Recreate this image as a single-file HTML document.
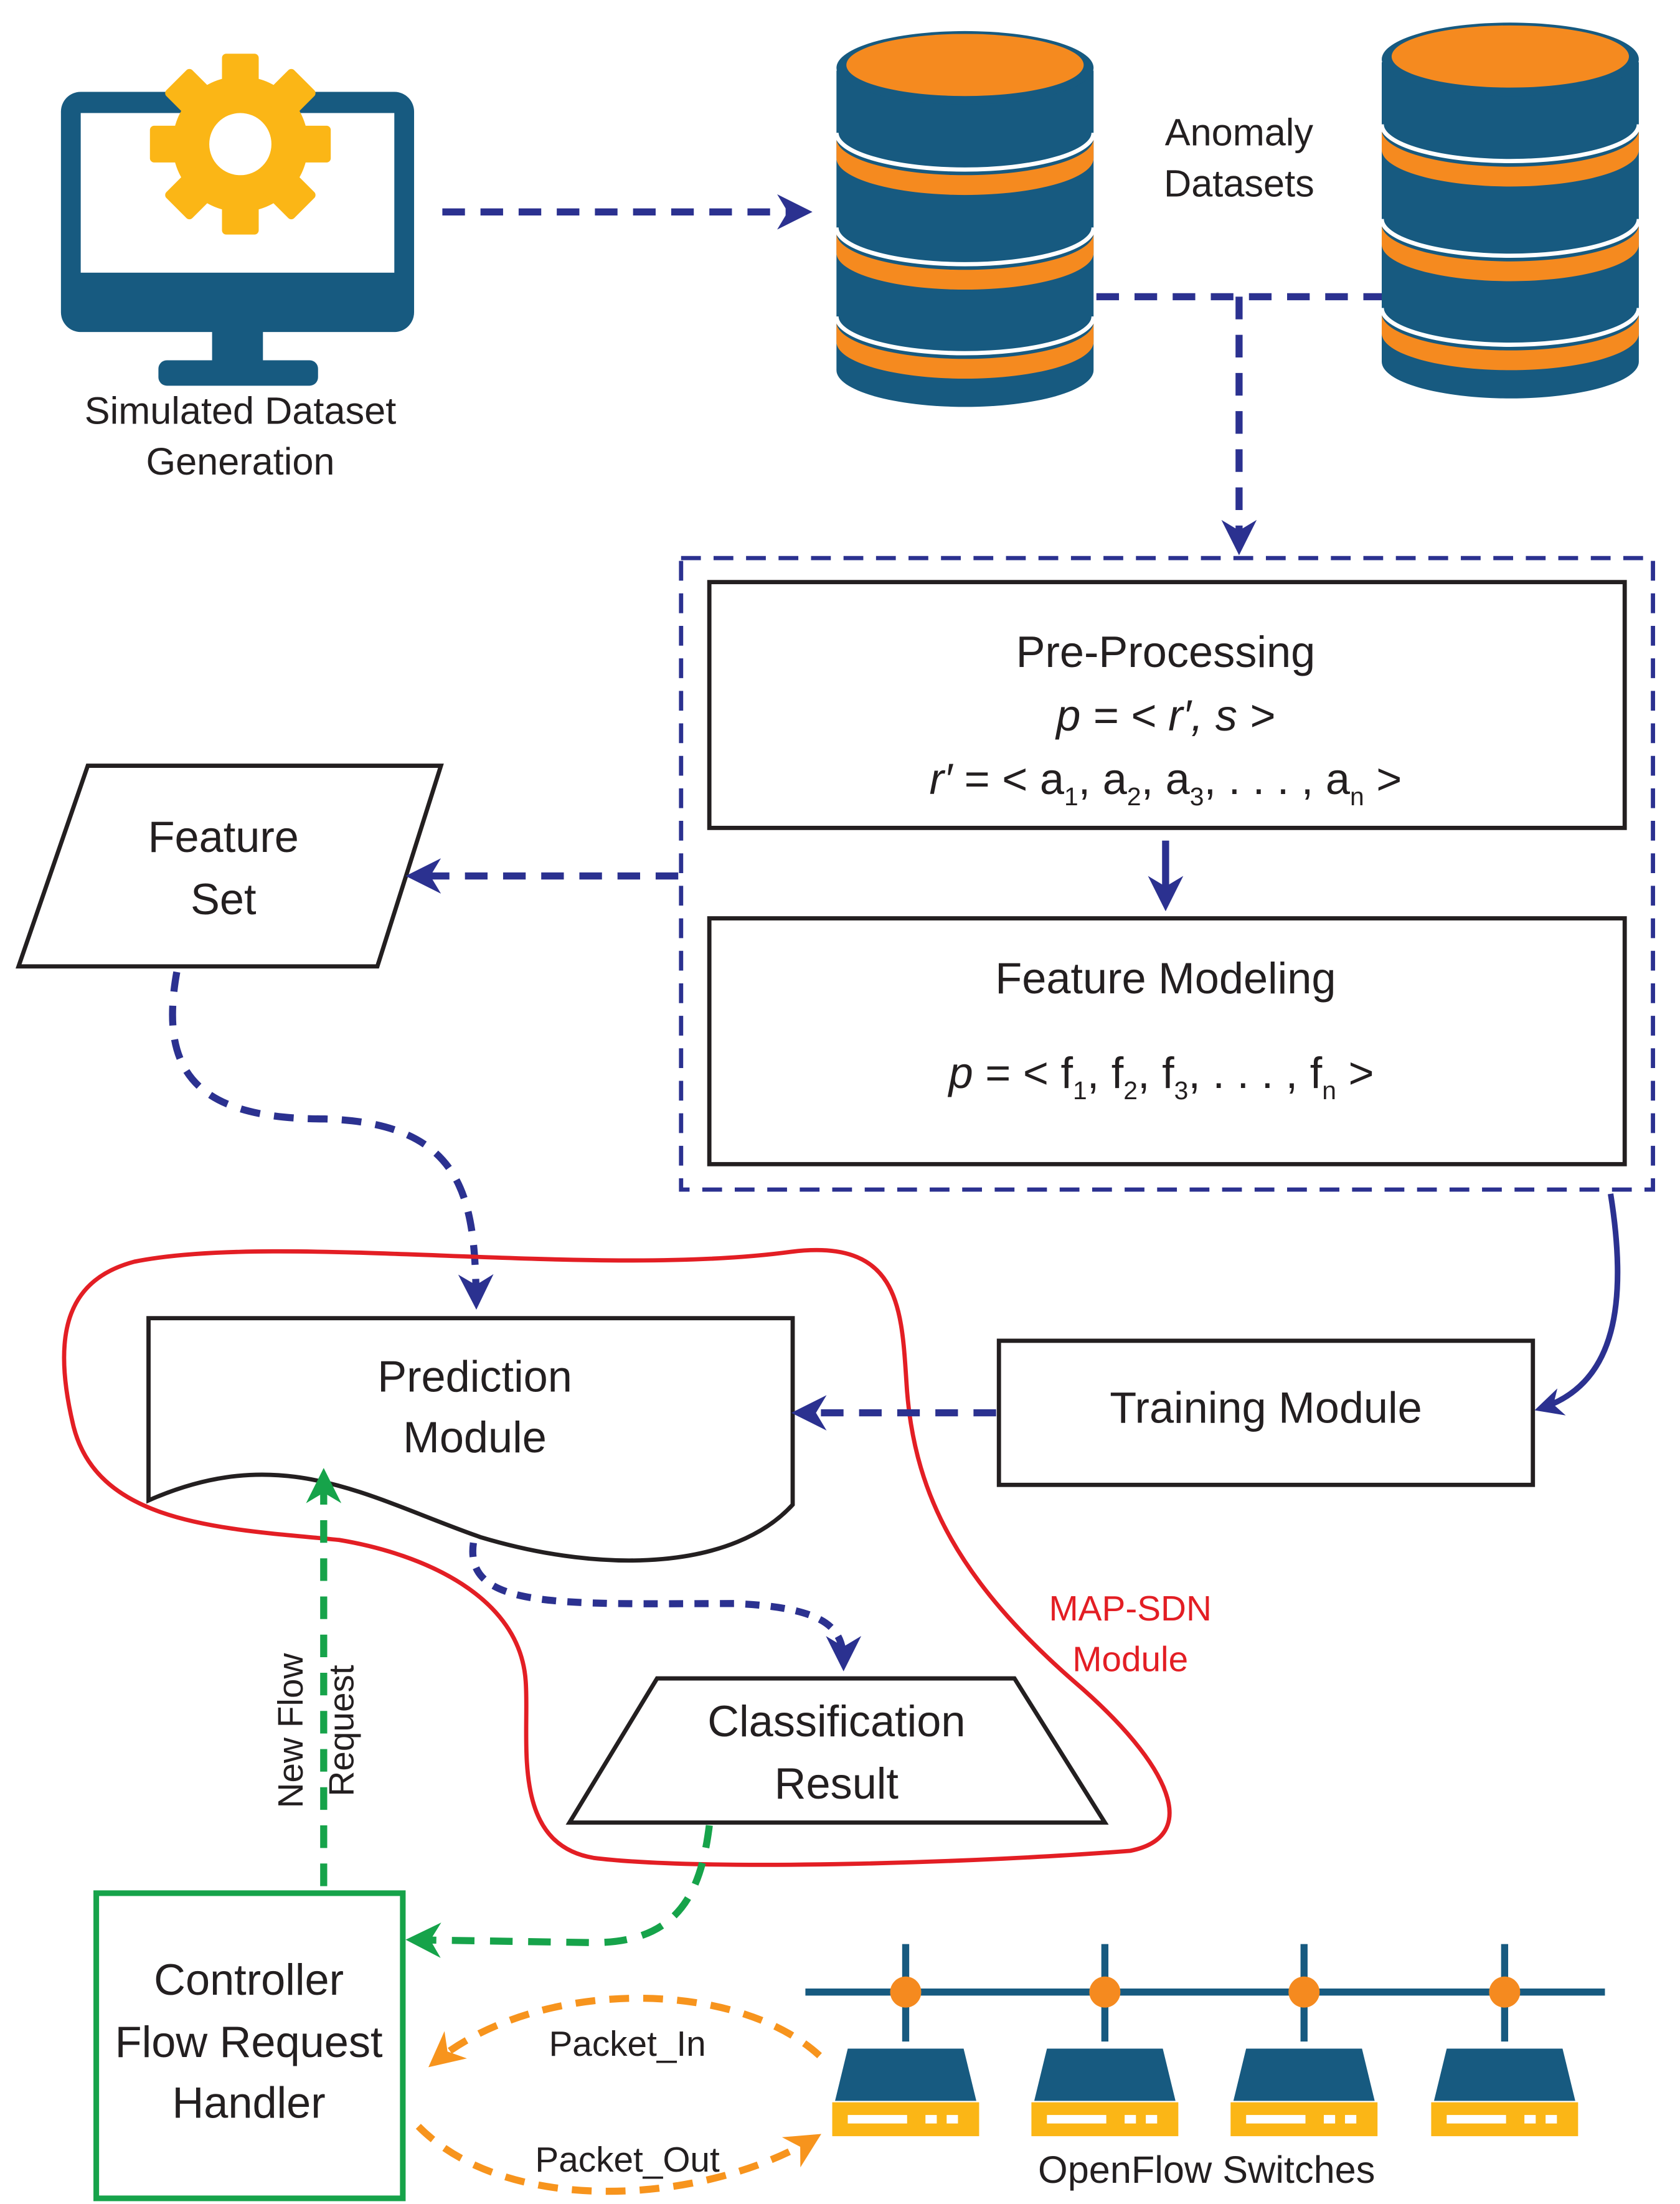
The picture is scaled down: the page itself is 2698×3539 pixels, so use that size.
<!DOCTYPE html>
<html><head><meta charset="utf-8"><style>
html,body{margin:0;padding:0;background:#fff}
svg{display:block}
text{font-family:"Liberation Sans",sans-serif;fill:#231f20}
</style></head><body>
<svg width="2698" height="3539" viewBox="0 0 1189 1560" xmlns="http://www.w3.org/2000/svg">
<defs>
<marker id="ab" viewBox="0 0 10 10" refX="8" refY="5" markerWidth="5" markerHeight="5" orient="auto"><path d="M0,0 L10,5 L0,10 L3,5 Z" fill="#2b3190"/></marker>
<marker id="ag" viewBox="0 0 10 10" refX="8" refY="5" markerWidth="5" markerHeight="5" orient="auto"><path d="M0,0 L10,5 L0,10 L3,5 Z" fill="#16a34a"/></marker>
<marker id="ao" viewBox="0 0 10 10" refX="8" refY="5" markerWidth="5" markerHeight="5" orient="auto"><path d="M0,0 L10,5 L0,10 L3,5 Z" fill="#f7941d"/></marker>
</defs>

<!-- Monitor -->
<rect x="43" y="65" width="250" height="170" rx="14" fill="#175a80"/>
<rect x="57" y="80" width="222" height="113" fill="#fff"/>
<rect x="150" y="233" width="36" height="25" fill="#175a80"/>
<rect x="112" y="255" width="113" height="18" rx="6" fill="#175a80"/>
<g transform="translate(170,102)" fill="#fbb616">
<circle r="48"/>
<g id="t"><rect x="-13" y="-64" width="26" height="30" rx="3"/></g>
<use href="#t" transform="rotate(45)"/><use href="#t" transform="rotate(90)"/><use href="#t" transform="rotate(135)"/>
<use href="#t" transform="rotate(180)"/><use href="#t" transform="rotate(225)"/><use href="#t" transform="rotate(270)"/><use href="#t" transform="rotate(315)"/>
<circle r="22" fill="#fff"/>
</g>
<text x="170" y="300" font-size="27" text-anchor="middle">Simulated Dataset</text>
<text x="170" y="336" font-size="27" text-anchor="middle">Generation</text>

<path d="M313,150 L570,150" stroke="#2b3190" stroke-width="5" stroke-dasharray="16,11" fill="none" marker-end="url(#ab)"/>

<!-- Cylinders -->
<g id="cyl">
<path d="M592,50 L592,262 A91,26 0 0 0 774,262 L774,50 Z" fill="#175a80"/>
<path d="M592,98 A91,26 0 0 0 774,98 L774,112 A91,26 0 0 1 592,112 Z" fill="#f58a1f"/>
<path d="M592,165 A91,26 0 0 0 774,165 L774,179 A91,26 0 0 1 592,179 Z" fill="#f58a1f"/>
<path d="M592,228 A91,26 0 0 0 774,228 L774,242 A91,26 0 0 1 592,242 Z" fill="#f58a1f"/>
<path d="M592,94 A91,26 0 0 0 774,94" stroke="#fff" stroke-width="3" fill="none"/>
<path d="M592,161 A91,26 0 0 0 774,161" stroke="#fff" stroke-width="3" fill="none"/>
<path d="M592,224 A91,26 0 0 0 774,224" stroke="#fff" stroke-width="3" fill="none"/>
<ellipse cx="683" cy="48" rx="91" ry="26" fill="#175a80"/>
<ellipse cx="683" cy="46" rx="84" ry="22" fill="#f58a1f"/>
</g>
<use href="#cyl" transform="translate(386,-6)"/>
<text x="877" y="103" font-size="27" text-anchor="middle">Anomaly</text>
<text x="877" y="139" font-size="27" text-anchor="middle">Datasets</text>

<path d="M776,210 L978,210" stroke="#2b3190" stroke-width="5" stroke-dasharray="16,11" fill="none"/>
<path d="M877,210 L877,388" stroke="#2b3190" stroke-width="5" stroke-dasharray="16,11" fill="none" marker-end="url(#ab)"/>

<rect x="482" y="395" width="688" height="447" fill="none" stroke="#2b3190" stroke-width="3" stroke-dasharray="14,9"/>
<rect x="502" y="412" width="648" height="174" fill="#fff" stroke="#231f20" stroke-width="3"/>
<text x="825" y="472" font-size="31" text-anchor="middle">Pre-Processing</text>
<text x="825" y="517" font-size="31" text-anchor="middle" font-style="italic">p = &lt; r′, s &gt;</text>
<text x="825" y="562" font-size="31" text-anchor="middle"><tspan font-style="italic">r′</tspan> = &lt; a<tspan font-size="18" dy="8">1</tspan><tspan dy="-8">, a</tspan><tspan font-size="18" dy="8">2</tspan><tspan dy="-8">, a</tspan><tspan font-size="18" dy="8">3</tspan><tspan dy="-8">, . . . , a</tspan><tspan font-size="18" dy="8">n</tspan><tspan dy="-8"> &gt;</tspan></text>
<path d="M825,595 L825,640" stroke="#2b3190" stroke-width="5" fill="none" marker-end="url(#ab)"/>
<rect x="502" y="650" width="648" height="174" fill="#fff" stroke="#231f20" stroke-width="3"/>
<text x="825" y="703" font-size="31" text-anchor="middle">Feature Modeling</text>
<text x="822" y="770" font-size="31" text-anchor="middle"><tspan font-style="italic">p</tspan> = &lt; f<tspan font-size="18" dy="8">1</tspan><tspan dy="-8">, f</tspan><tspan font-size="18" dy="8">2</tspan><tspan dy="-8">, f</tspan><tspan font-size="18" dy="8">3</tspan><tspan dy="-8">, . . . , f</tspan><tspan font-size="18" dy="8">n</tspan><tspan dy="-8"> &gt;</tspan></text>

<!-- Feature set -->
<path d="M62,542 L312,542 L267,684 L13,684 Z" fill="#fff" stroke="#231f20" stroke-width="3"/>
<text x="158" y="603" font-size="31" text-anchor="middle">Feature</text>
<text x="158" y="647" font-size="31" text-anchor="middle">Set</text>
<path d="M480,620 L292,620" stroke="#2b3190" stroke-width="5" stroke-dasharray="16,11" fill="none" marker-end="url(#ab)"/>
<path d="M125,688 C112,760 140,792 230,792 C330,795 336,850 337,922" stroke="#2b3190" stroke-width="5" stroke-dasharray="14,10" fill="none" marker-end="url(#ab)"/>

<!-- Red blob -->
<path d="M95,893 C200,872 420,905 560,886 C640,876 638,930 642,985 C648,1060 680,1120 760,1190 C830,1250 850,1300 800,1310 C700,1318 500,1325 420,1315 C360,1305 375,1230 372,1190 C368,1130 300,1100 240,1090 C160,1082 70,1080 52,1010 C35,940 50,905 95,893 Z" fill="none" stroke="#e31e24" stroke-width="3"/>

<!-- Prediction -->
<path d="M105,933 L561,933 L561,1065 C520,1110 430,1115 340,1088 C260,1060 200,1020 105,1062 Z" fill="#fff" stroke="#231f20" stroke-width="3"/>
<text x="336" y="985" font-size="31" text-anchor="middle">Prediction</text>
<text x="336" y="1028" font-size="31" text-anchor="middle">Module</text>

<rect x="707" y="949" width="378" height="102" fill="#fff" stroke="#231f20" stroke-width="3"/>
<text x="896" y="1007" font-size="31" text-anchor="middle">Training Module</text>
<path d="M705,1000 L565,1000" stroke="#2b3190" stroke-width="5" stroke-dasharray="16,11" fill="none" marker-end="url(#ab)"/>
<path d="M1140,845 C1152,920 1145,980 1090,997" stroke="#2b3190" stroke-width="4" fill="none" marker-end="url(#ab)"/>

<path d="M335,1092 C328,1140 400,1135 520,1135 C590,1138 597,1155 597,1178" stroke="#2b3190" stroke-width="5" stroke-dasharray="10,8" fill="none" marker-end="url(#ab)"/>

<path d="M465,1188 L718,1188 L782,1290 L403,1290 Z" fill="#fff" stroke="#231f20" stroke-width="3"/>
<text x="592" y="1229" font-size="31" text-anchor="middle">Classification</text>
<text x="592" y="1273" font-size="31" text-anchor="middle">Result</text>
<text x="800" y="1147" font-size="25" text-anchor="middle" style="fill:#e31e24">MAP-SDN</text>
<text x="800" y="1183" font-size="25" text-anchor="middle" style="fill:#e31e24">Module</text>

<!-- green -->
<path d="M229,1335 L229,1044" stroke="#16a34a" stroke-width="5" stroke-dasharray="16,11" fill="none" marker-end="url(#ag)"/>
<text transform="translate(214,1225) rotate(-90)" font-size="25" text-anchor="middle">New Flow</text>
<text transform="translate(250,1225) rotate(-90)" font-size="25" text-anchor="middle">Request</text>
<path d="M502,1292 C496,1340 480,1375 420,1375 L292,1373" stroke="#16a34a" stroke-width="5" stroke-dasharray="16,11" fill="none" marker-end="url(#ag)"/>
<rect x="68" y="1340" width="217" height="216" fill="#fff" stroke="#16a34a" stroke-width="4"/>
<text x="176" y="1412" font-size="31" text-anchor="middle">Controller</text>
<text x="176" y="1456" font-size="31" text-anchor="middle">Flow Request</text>
<text x="176" y="1499" font-size="31" text-anchor="middle">Handler</text>

<!-- orange -->
<path d="M580,1455 C520,1400 380,1400 307,1460" stroke="#f7941d" stroke-width="5" stroke-dasharray="14,10" fill="none" marker-end="url(#ao)"/>
<text x="444" y="1455" font-size="25" text-anchor="middle">Packet_In</text>
<path d="M296,1505 C360,1570 500,1560 577,1513" stroke="#f7941d" stroke-width="5" stroke-dasharray="14,10" fill="none" marker-end="url(#ao)"/>
<text x="444" y="1537" font-size="25" text-anchor="middle">Packet_Out</text>

<!-- network -->
<line x1="570" y1="1410" x2="1136" y2="1410" stroke="#175a80" stroke-width="5"/>
<g id="sw">
<line x1="641" y1="1376" x2="641" y2="1445" stroke="#175a80" stroke-width="5"/>
<circle cx="641" cy="1410" r="11" fill="#f58a1f"/>
<path d="M600,1450 L682,1450 L691,1487 L591,1487 Z" fill="#175a80"/>
<rect x="589" y="1488" width="104" height="24" fill="#fbb616"/>
<rect x="600" y="1497" width="42" height="6" fill="#fff"/>
<rect x="655" y="1497" width="8" height="6" fill="#fff"/>
<rect x="670" y="1497" width="8" height="6" fill="#fff"/>
</g>
<use href="#sw" transform="translate(141,0)"/>
<use href="#sw" transform="translate(282,0)"/>
<use href="#sw" transform="translate(424,0)"/>
<text x="854" y="1545" font-size="27" text-anchor="middle">OpenFlow Switches</text>
</svg>
</body></html>
